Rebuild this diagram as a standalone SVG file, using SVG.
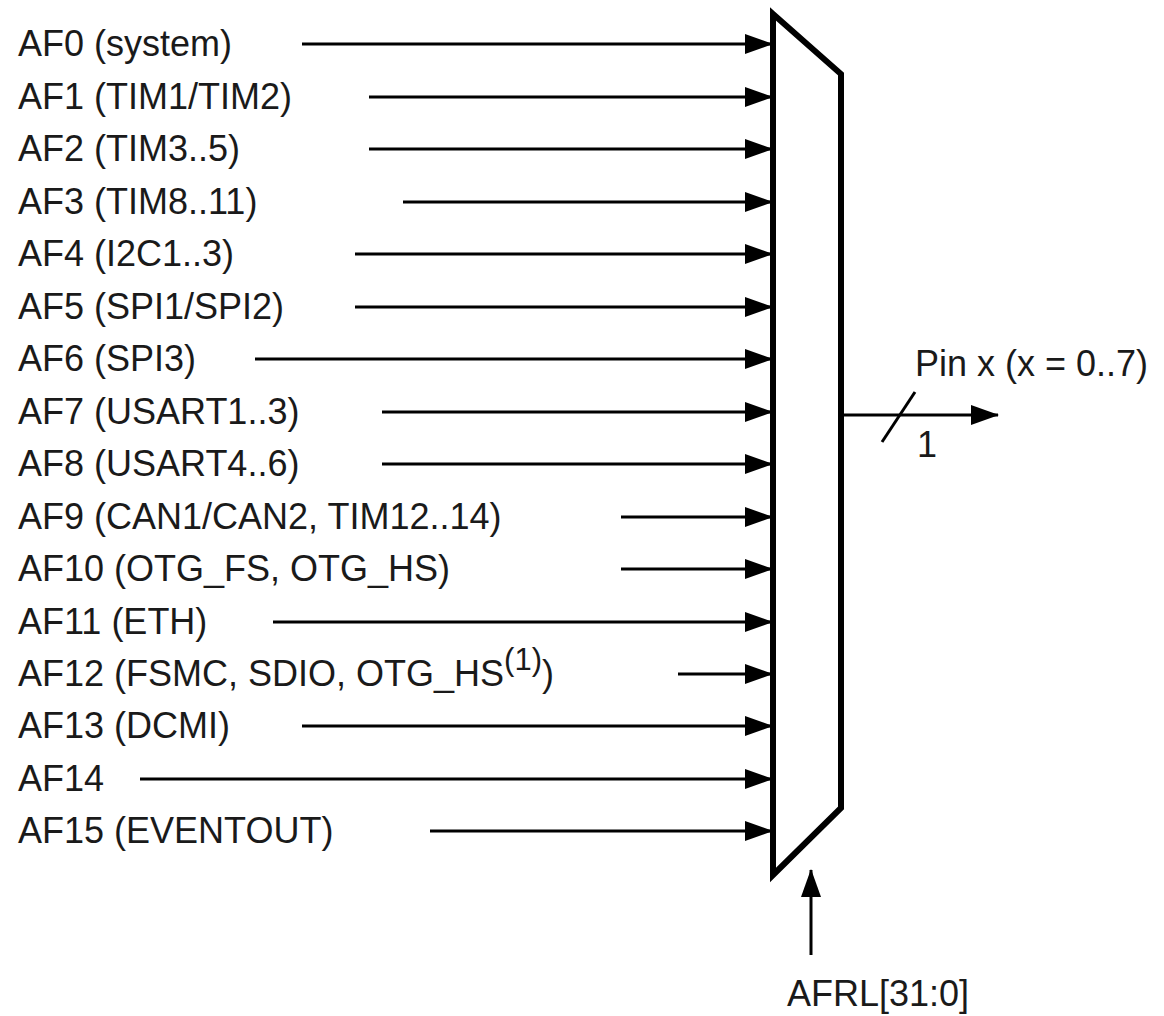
<svg xmlns="http://www.w3.org/2000/svg" width="1164" height="1016" viewBox="0 0 1164 1016">
<style>
text{font-family:"Liberation Sans",Arial,sans-serif;font-size:36px;fill:#1a1a1a}
.w{stroke:#000;stroke-width:3;fill:none}
.mux{stroke:#000;stroke-width:6;fill:#fff;stroke-linejoin:miter}
</style>
<defs>
<marker id="ah" markerUnits="userSpaceOnUse" markerWidth="28" markerHeight="20" refX="27" refY="10" orient="auto">
<path d="M0,0 L28,10 L0,20 Z" fill="#000"/>
</marker>
</defs>
<rect width="1164" height="1016" fill="#fff"/>
<g id="labels">
<text x="18" y="56">AF0 (system)</text>
<text x="18" y="109">AF1 (TIM1/TIM2)</text>
<text x="18" y="161">AF2 (TIM3..5)</text>
<text x="18" y="214">AF3 (TIM8..11)</text>
<text x="18" y="266">AF4 (I2C1..3)</text>
<text x="18" y="319">AF5 (SPI1/SPI2)</text>
<text x="18" y="371">AF6 (SPI3)</text>
<text x="18" y="424">AF7 (USART1..3)</text>
<text x="18" y="476">AF8 (USART4..6)</text>
<text x="18" y="529">AF9 (CAN1/CAN2, TIM12..14)</text>
<text x="18" y="581">AF10 (OTG_FS, OTG_HS)</text>
<text x="18" y="634">AF11 (ETH)</text>
<text x="18" y="686">AF12 (FSMC, SDIO, OTG_HS<tspan font-size="31" dy="-16">(1)</tspan><tspan dy="16">)</tspan></text>
<text x="18" y="738">AF13 (DCMI)</text>
<text x="18" y="791">AF14</text>
<text x="18" y="843">AF15 (EVENTOUT)</text>
</g>
<g id="connectors">
<line class="w" x1="302" y1="44" x2="772" y2="44" marker-end="url(#ah)"/>
<line class="w" x1="369" y1="97" x2="772" y2="97" marker-end="url(#ah)"/>
<line class="w" x1="369" y1="149" x2="772" y2="149" marker-end="url(#ah)"/>
<line class="w" x1="403" y1="202" x2="772" y2="202" marker-end="url(#ah)"/>
<line class="w" x1="355" y1="254" x2="772" y2="254" marker-end="url(#ah)"/>
<line class="w" x1="355" y1="307" x2="772" y2="307" marker-end="url(#ah)"/>
<line class="w" x1="255" y1="359" x2="772" y2="359" marker-end="url(#ah)"/>
<line class="w" x1="382" y1="412" x2="772" y2="412" marker-end="url(#ah)"/>
<line class="w" x1="382" y1="464" x2="772" y2="464" marker-end="url(#ah)"/>
<line class="w" x1="621" y1="517" x2="772" y2="517" marker-end="url(#ah)"/>
<line class="w" x1="621" y1="569" x2="772" y2="569" marker-end="url(#ah)"/>
<line class="w" x1="273" y1="622" x2="772" y2="622" marker-end="url(#ah)"/>
<line class="w" x1="678" y1="674" x2="772" y2="674" marker-end="url(#ah)"/>
<line class="w" x1="302" y1="726" x2="772" y2="726" marker-end="url(#ah)"/>
<line class="w" x1="140" y1="779" x2="772" y2="779" marker-end="url(#ah)"/>
<line class="w" x1="430" y1="831" x2="772" y2="831" marker-end="url(#ah)"/>
<line class="w" x1="843" y1="415" x2="998" y2="415" marker-end="url(#ah)"/>
<line class="w" x1="882" y1="442" x2="915" y2="392"/>
<line class="w" x1="811" y1="955" x2="811" y2="870" marker-end="url(#ah)"/>
</g>
<g id="mux">
<polygon class="mux" points="773,14 841,74 841,808 773,875"/>
</g>
<g id="output-labels">
<text x="915" y="376">Pin x (x = 0..7)</text>
<text x="917" y="457">1</text>
<text x="787" y="1006">AFRL[31:0]</text>
</g>
</svg>
